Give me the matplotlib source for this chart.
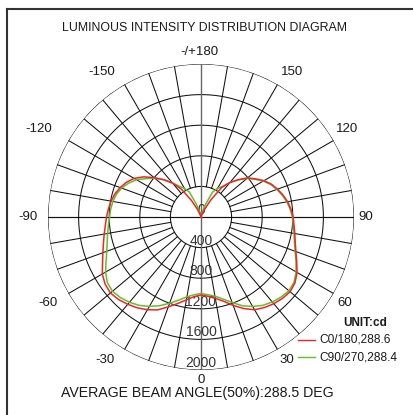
import matplotlib.pyplot as plt
import numpy as np
from matplotlib.lines import Line2D

plt.rcParams['font.family'] = ['Liberation Sans', 'DejaVu Sans']

# gamma angles (deg), 0 = straight down
angles = list(range(0, 181, 5))

# C0 plane (right half) and C180 plane (left half), cd
c0 = [1020, 1040, 1080, 1140, 1230, 1320, 1400, 1445, 1480, 1505, 1520, 1500,
      1450, 1380, 1320, 1275, 1245, 1220, 1205, 1180, 1150, 1110, 1065, 1015,
      950, 870, 795, 690, 590, 470, 260, 110, 30, 5, 0, 0, 0]
c180 = [1020, 1045, 1100, 1170, 1250, 1340, 1400, 1450, 1490, 1525, 1545, 1530,
        1490, 1420, 1365, 1320, 1285, 1255, 1235, 1215, 1195, 1165, 1125, 1075,
        1010, 915, 800, 690, 580, 440, 250, 110, 30, 5, 0, 0, 0]
# C90 plane (right half) and C270 plane (left half), cd
c90 = [1000, 1020, 1050, 1110, 1190, 1280, 1350, 1410, 1450, 1480, 1500, 1485,
       1435, 1370, 1310, 1265, 1235, 1210, 1195, 1170, 1140, 1100, 1055, 1005,
       940, 860, 785, 685, 585, 490, 430, 360, 180, 60, 10, 0, 0]
c270 = [1000, 1020, 1060, 1125, 1200, 1280, 1350, 1410, 1455, 1490, 1510, 1495,
        1440, 1370, 1310, 1270, 1240, 1215, 1195, 1185, 1170, 1145, 1105, 1045,
        975, 875, 790, 690, 580, 490, 430, 360, 180, 60, 10, 0, 0]

rings = [400, 800, 1200, 1600, 2000]
ring_labels = ['0', '400', '800', '1200', '1600', '2000']
angle_labels = ['-/+180', '-150', '150', '-120', '120', '-90', '90', '-60', '60', '-30', '30', '0']
angle_label_pos = [(199, 52), (102, 72), (292, 72), (39, 129), (347, 129), (28, 217), (366, 217),
                   (48, 303), (345, 303), (105, 360), (287, 360), (201, 380)]

W, H = 413, 415
RED = '#f2232a'
GREEN = '#5fc12c'
INK = '#1a1a1a'


def px(x, y):
    return x / W, 1 - y / H


fig = plt.figure(figsize=(W / 100, H / 100), dpi=100)

# polar axes: centre (201,217), radius 153 px
cx, cy, R = 201, 217, 153
ax = fig.add_axes([(cx - R) / W, (H - cy - R) / H, 2 * R / W, 2 * R / H], projection='polar')
ax.set_theta_zero_location('S')
ax.set_theta_direction(1)
ax.set_rlim(0, 2000)
ax.axis('off')

# grid
t = np.linspace(0, 2 * np.pi, 400)
for r in rings:
    ax.plot(t, np.full_like(t, r), color='#111111', lw=0.75, zorder=1)
for a in range(0, 360, 10):
    if a % 90 == 0:
        continue
    ax.plot([np.radians(a)] * 2, [400, 2000], color='#111111', lw=0.75, zorder=1)
ax.plot([np.radians(90)] * 2, [0, 2000], color='#111111', lw=0.85, zorder=1)
ax.plot([np.radians(270)] * 2, [0, 2000], color='#111111', lw=0.85, zorder=1)
ax.plot([0, 0], [0, 2000], color='#666666', lw=1.0, zorder=1)
ax.plot([np.pi, np.pi], [0, 2000], color='#666666', lw=1.0, zorder=1)

for r, lab in zip([0] + rings, ring_labels):
    ax.text(0, r, lab, ha='center', va='bottom', fontsize=10, color='#333333', zorder=2)

# curves: right half positive angles, left half negative
ang = np.array(angles, dtype=float)
th = np.radians(np.concatenate([-ang[::-1], ang[1:]]))
r_red = np.concatenate([np.array(c180)[::-1], np.array(c0)[1:]])
r_green = np.concatenate([np.array(c270)[::-1], np.array(c90)[1:]])
ax.plot(th, r_green, color=GREEN, lw=1.1, zorder=3)
ax.plot(th, r_red, color=RED, lw=1.1, zorder=3)

for lab, (x, y) in zip(angle_labels, angle_label_pos):
    fig.text(*px(x, y), lab, ha='center', va='center', fontsize=9.5, color=INK)

fig.text(*px(205, 28), 'LUMINOUS INTENSITY DISTRIBUTION DIAGRAM', ha='center', va='center',
         fontsize=8.9, color=INK)
fig.text(*px(197, 393), 'AVERAGE BEAM ANGLE(50%):288.5 DEG', ha='center', va='center',
         fontsize=10.2, color=INK)
fig.text(*px(365, 323), 'UNIT:cd', ha='center', va='center', fontsize=8.5,
         fontweight='bold', color=INK)

for lab, col, y in [('C0/180,288.6', RED, 340), ('C90/270,288.4', GREEN, 357)]:
    fig.add_artist(Line2D([298 / W, 315 / W], [1 - y / H] * 2, color=col, lw=1.0))
    fig.text(*px(319, y), lab, ha='left', va='center', fontsize=8.6, color=INK)

# frame
fig.add_artist(Line2D([7.5 / W, 7.5 / W], [0, 1 - 9 / H], color='#333333', lw=1.5))
fig.add_artist(Line2D([7.5 / W, 1], [1 - 9 / H] * 2, color='#333333', lw=1.5))

fig.savefig('out.png', dpi=100)
